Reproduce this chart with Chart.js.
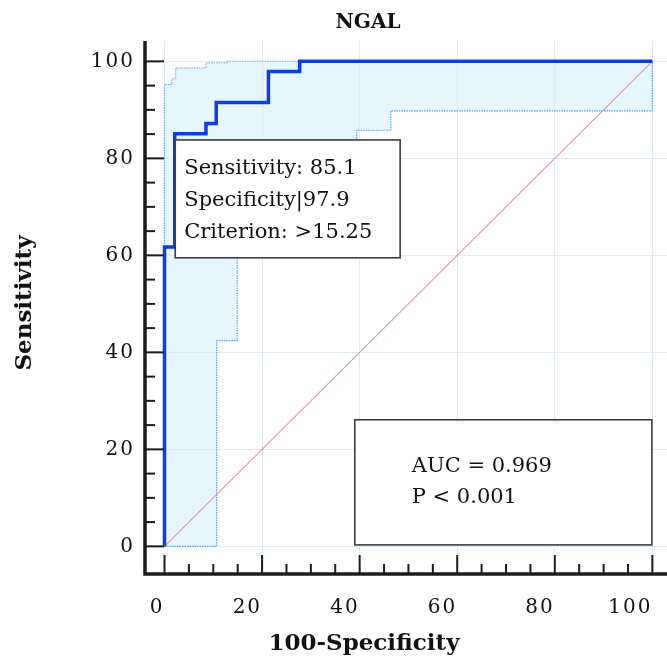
<!DOCTYPE html>
<html>
<head>
<meta charset="utf-8">
<script src="https://cdn.jsdelivr.net/npm/chart.js@4.4.1/dist/chart.umd.min.js"></script>
<style>
  html, body { margin: 0; padding: 0; background: #fff; }
  #wrap { width: 667px; height: 659px; }
</style>
</head>
<body>
<div id="wrap"><canvas id="roc"></canvas></div>
<script>
// ROC curve for NGAL (x = 100-Specificity, y = Sensitivity)
const rocX = [0, 0, 2.1, 2.1, 8.5, 8.5, 10.6, 10.6, 21.3, 21.3, 27.7, 27.7, 100];
const rocY = [0, 61.7, 61.7, 85.1, 85.1, 87.2, 87.2, 91.5, 91.5, 97.9, 97.9, 100, 100];

// 95% confidence bounds
const upperX = [0, 0, 1.5, 1.5, 2.3, 2.3, 8.5, 8.5, 13, 13, 100];
const upperY = [0, 95.2, 95.2, 96.4, 96.4, 98.6, 98.6, 99.7, 99.7, 100, 100];
const lowerX = [0, 10.7, 10.7, 14.9, 14.9, 39.4, 39.4, 46.4, 46.4, 100, 100];
const lowerY = [0, 0, 42.4, 42.4, 76.6, 76.6, 85.8, 85.8, 89.8, 89.8, 100];

// reference line
const diagX = [0, 100];
const diagY = [0, 100];

const xTicks = [0, 20, 40, 60, 80, 100];
const yTicks = [0, 20, 40, 60, 80, 100];

const criterionText = ['Sensitivity: 85.1', 'Specificity|97.9', 'Criterion: >15.25'];
const aucText = ['AUC = 0.969', 'P < 0.001'];

const SERIF = '"DejaVu Serif", "Liberation Serif", serif';

function pts(xs, ys){
  return xs.map((x, i) => ({ x: x, y: ys[i] }));
}

function zeroPad(s){
  s.paddingLeft = 0; s.paddingRight = 0; s.paddingTop = 0; s.paddingBottom = 0;
}

// spaced digits on the tick labels
const spacing = {
  id: 'spacing',
  beforeDraw(chart){ chart.ctx.letterSpacing = '2px'; },
  afterDraw(chart){ chart.ctx.letterSpacing = '0px'; }
};

// axis lines, inward ticks, boxes and titles
const decor = {
  id: 'decor',
  afterDatasetsDraw(chart){
    const ctx = chart.ctx;
    const a = chart.chartArea;
    const sx = chart.scales.x, sy = chart.scales.y;
    ctx.save();
    ctx.letterSpacing = '0px';

    // boxes
    function box(x1, y1, x2, y2){
      const l = sx.getPixelForValue(x1), r = sx.getPixelForValue(x2);
      const t = sy.getPixelForValue(y2), b = sy.getPixelForValue(y1);
      ctx.fillStyle = '#fff';
      ctx.fillRect(l, t, r - l, b - t);
      ctx.strokeStyle = '#3a3f42';
      ctx.lineWidth = 1.6;
      ctx.strokeRect(l, t, r - l, b - t);
      ctx.fillStyle = '#111';
      return { l, t };
    }
    ctx.font = '21px ' + SERIF;
    ctx.textBaseline = 'middle';
    ctx.textAlign = 'left';
    let p = box(2.2, 59.5, 48.3, 83.8);
    criterionText.forEach((s, i) => ctx.fillText(s, p.l + 9, p.t + 29 + i * 32));
    p = box(39.0, 0.3, 99.9, 26.1);
    aucText.forEach((s, i) => ctx.fillText(s, p.l + 57, p.t + 47 + i * 31));

    // axis lines
    ctx.strokeStyle = '#1c1c1c';
    ctx.lineWidth = 3.5;
    ctx.beginPath();
    ctx.moveTo(a.left, a.top);
    ctx.lineTo(a.left, a.bottom);
    ctx.lineTo(a.right, a.bottom);
    ctx.stroke();

    // ticks (major every 20, minor every 5)
    ctx.lineWidth = 2;
    for(let v = 0; v <= 100; v += 5){
      const major = v % 20 === 0;
      const len = major ? 19 : 10;
      const px = sx.getPixelForValue(v);
      ctx.beginPath();
      ctx.moveTo(px, a.bottom);
      ctx.lineTo(px, a.bottom - len);
      ctx.stroke();
      const py = sy.getPixelForValue(v);
      ctx.beginPath();
      ctx.moveTo(a.left, py);
      ctx.lineTo(a.left + len, py);
      ctx.stroke();
    }

    // titles
    ctx.fillStyle = '#111';
    ctx.textAlign = 'center';
    ctx.font = 'bold 20px ' + SERIF;
    ctx.fillText('NGAL', 368, 23);
    ctx.font = 'bold 23px ' + SERIF;
    ctx.fillText('100-Specificity', 364, 644);
    ctx.translate(25, 303);
    ctx.rotate(-Math.PI / 2);
    ctx.fillText('Sensitivity', 0, 0);
    ctx.restore();
  }
};

new Chart(document.getElementById('roc'), {
  type: 'scatter',
  data: {
    datasets: [
      { data: pts(upperX, upperY), showLine: true, borderColor: '#5a9de8', borderWidth: 1.2, borderDash: [1.5, 1], pointRadius: 0, fill: false, order: 4 },
      { data: pts(lowerX, lowerY), showLine: true, borderColor: '#5a9de8', borderWidth: 1.2, borderDash: [1.5, 1], pointRadius: 0, fill: '-1', backgroundColor: 'rgba(210,238,252,0.55)', order: 3 },
      { data: pts(diagX, diagY), showLine: true, borderColor: '#d596b5', borderWidth: 1.1, pointRadius: 0, order: 2 },
      { data: pts(rocX, rocY), showLine: true, borderColor: '#0c3fdc', borderWidth: 3.5, pointRadius: 0, order: 1 }
    ]
  },
  options: {
    responsive: true,
    maintainAspectRatio: false,
    animation: false,
    events: [],
    layout: { padding: { top: 41, left: 0, right: 0, bottom: 0 } },
    plugins: { legend: { display: false }, tooltip: { enabled: false } },
    scales: {
      x: {
        type: 'linear', min: -4, max: 103,
        afterBuildTicks: s => { s.ticks = xTicks.map(v => ({ value: v })); },
        afterFit: s => { s.height = 85; zeroPad(s); },
        grid: { color: '#e2ebf1', lineWidth: 1, drawTicks: false },
        border: { display: false },
        ticks: { font: { family: SERIF, size: 20 }, color: '#111', padding: 22, align: 'end', maxRotation: 0 }
      },
      y: {
        type: 'linear', min: -5.7, max: 104.2,
        afterBuildTicks: s => { s.ticks = yTicks.map(v => ({ value: v })); },
        afterFit: s => { s.width = 145; zeroPad(s); },
        grid: { color: '#e2ebf1', lineWidth: 1, drawTicks: false },
        border: { display: false },
        ticks: { font: { family: SERIF, size: 20 }, color: '#111', padding: 10 }
      }
    }
  },
  plugins: [spacing, decor]
});
</script>
</body>
</html>
